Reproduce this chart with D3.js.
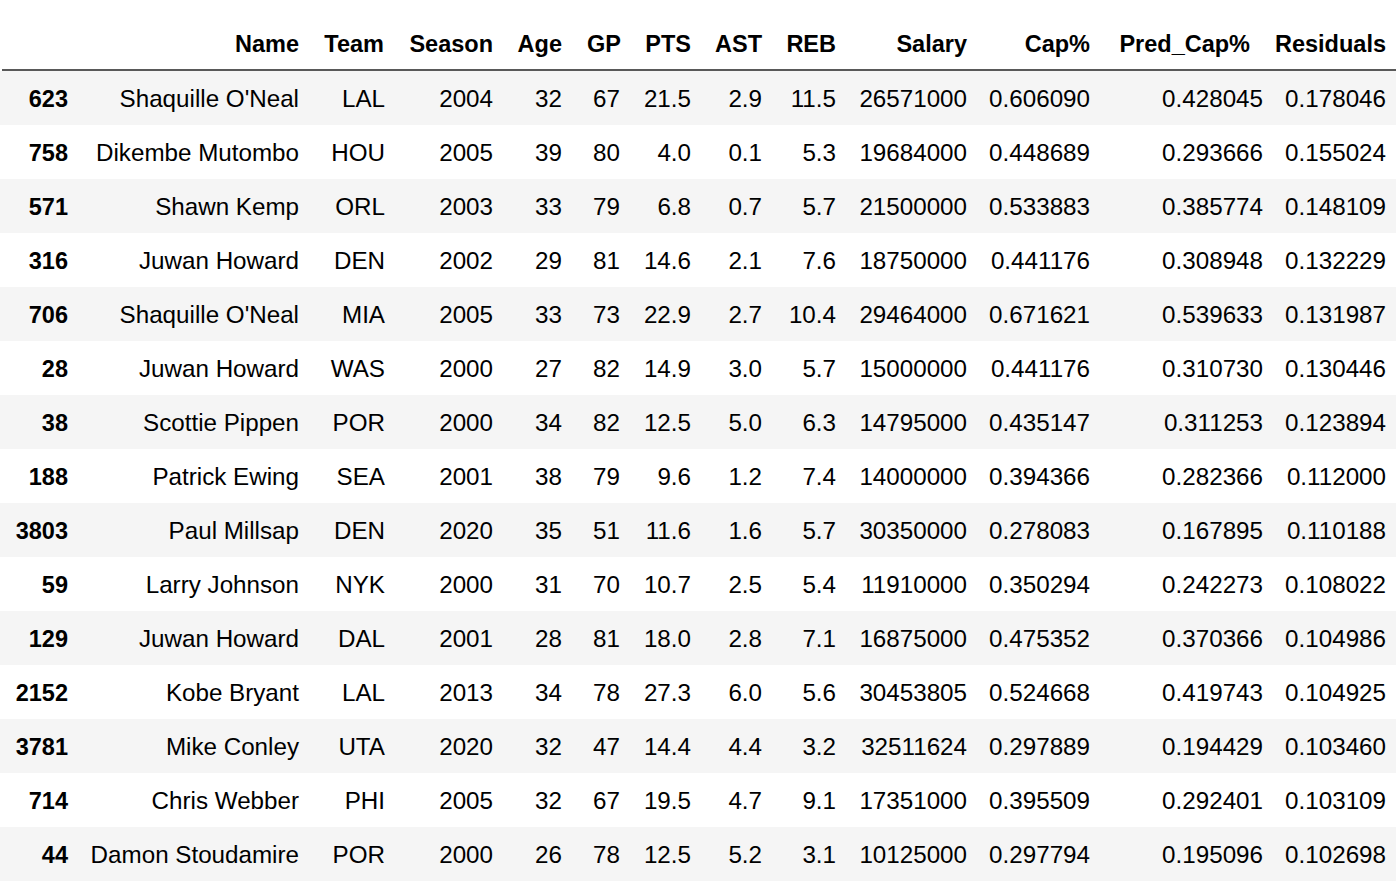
<!DOCTYPE html>
<html><head><meta charset="utf-8">
<script src="https://cdn.jsdelivr.net/npm/d3@7"></script>
<style>body{margin:0;background:#fff}</style></head>
<body><svg id="c" width="1396" height="886"></svg>
<script>
const columns=["Name","Team","Season","Age","GP","PTS","AST","REB","Salary","Cap%","Pred_Cap%","Residuals"];
const index=[623,758,571,316,706,28,38,188,3803,59,129,2152,3781,714,44];
const names=["Shaquille O'Neal","Dikembe Mutombo","Shawn Kemp","Juwan Howard","Shaquille O'Neal","Juwan Howard","Scottie Pippen","Patrick Ewing","Paul Millsap","Larry Johnson","Juwan Howard","Kobe Bryant","Mike Conley","Chris Webber","Damon Stoudamire"];
const teams=["LAL","HOU","ORL","DEN","MIA","WAS","POR","SEA","DEN","NYK","DAL","LAL","UTA","PHI","POR"];
const seasons=[2004,2005,2003,2002,2005,2000,2000,2001,2020,2000,2001,2013,2020,2005,2000];
const ages=[32,39,33,29,33,27,34,38,35,31,28,34,32,32,26];
const gp=[67,80,79,81,73,82,82,79,51,70,81,78,47,67,78];
const pts=["21.5","4.0","6.8","14.6","22.9","14.9","12.5","9.6","11.6","10.7","18.0","27.3","14.4","19.5","12.5"];
const ast=["2.9","0.1","0.7","2.1","2.7","3.0","5.0","1.2","1.6","2.5","2.8","6.0","4.4","4.7","5.2"];
const reb=["11.5","5.3","5.7","7.6","10.4","5.7","6.3","7.4","5.7","5.4","7.1","5.6","3.2","9.1","3.1"];
const salary=[26571000,19684000,21500000,18750000,29464000,15000000,14795000,14000000,30350000,11910000,16875000,30453805,32511624,17351000,10125000];
const cap=["0.606090","0.448689","0.533883","0.441176","0.671621","0.441176","0.435147","0.394366","0.278083","0.350294","0.475352","0.524668","0.297889","0.395509","0.297794"];
const pred=["0.428045","0.293666","0.385774","0.308948","0.539633","0.310730","0.311253","0.282366","0.167895","0.242273","0.370366","0.419743","0.194429","0.292401","0.195096"];
const resid=["0.178046","0.155024","0.148109","0.132229","0.131987","0.130446","0.123894","0.112000","0.110188","0.108022","0.104986","0.104925","0.103460","0.103109","0.102698"];
const colsData=[names,teams,seasons,ages,gp,pts,ast,reb,salary,cap,pred,resid];
const headRight=[299,384,493,562,621,691,762,836,967,1090,1250,1386];
const valRight=[299,385,493,562,620,691,762,836,967,1090,1263,1386];
const svg=d3.select("#c");
const font="'Liberation Sans', Arial, Helvetica, sans-serif";
const y=d3.scaleBand().domain(d3.range(index.length)).range([71,71+54*index.length]);
svg.selectAll("rect.s").data(d3.range(index.length).filter(i=>i%2==0)).join("rect")
 .attr("x",0).attr("width",1396).attr("y",i=>y(i)).attr("height",y.bandwidth()).attr("fill","#f5f5f5");
svg.append("line").attr("x1",2).attr("x2",1396).attr("y1",70).attr("y2",70).attr("stroke","#222").attr("stroke-width",1.5);
svg.selectAll("text.h").data(columns).join("text").attr("x",(d,i)=>headRight[i]).attr("y",52)
 .attr("text-anchor","end").attr("font-family",font).attr("font-weight","bold").attr("font-size",23.5).attr("fill","#000").text(d=>d);
svg.selectAll("text.i").data(index).join("text").attr("x",68).attr("y",(d,i)=>y(i)+y.bandwidth()/2+9)
 .attr("text-anchor","end").attr("font-family",font).attr("font-weight","bold").attr("font-size",23.5).text(d=>d);
colsData.forEach((col,c)=>{
 svg.append("g").selectAll("text").data(col).join("text").attr("x",valRight[c]).attr("y",(d,i)=>y(i)+y.bandwidth()/2+8.5)
  .attr("text-anchor","end").attr("font-family",font).attr("font-size",24.2).attr("fill","#000").text(d=>d);
});
</script></body></html>
